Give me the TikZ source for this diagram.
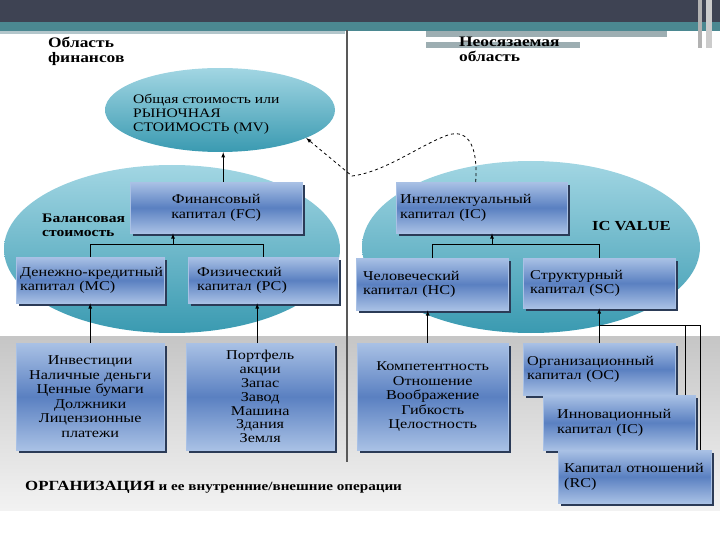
\documentclass[tikz,border=0pt]{standalone}
\usepackage{fontspec}
\setmainfont{Liberation Serif}[FakeStretch=1.2]
\usetikzlibrary{shapes,arrows,positioning,calc,shadows}
\definecolor{topbar}{HTML}{3E4353}
\definecolor{tealband}{HTML}{4B8891}
\definecolor{paleband}{HTML}{B3C6CB}
\definecolor{greyband}{HTML}{9DAEB2}
\definecolor{ovaltop}{HTML}{A2D6E3}
\definecolor{ovalbot}{HTML}{3A9AB1}
\definecolor{boxedge}{HTML}{A9C1E5}
\definecolor{boxmid}{HTML}{5A80C1}
\definecolor{boxshade}{HTML}{2B3B57}

\begin{document}
\begin{tikzpicture}[x=1pt, y=-1pt,
    capbox/.style={draw=boxedge, top color=boxedge, bottom color=boxedge, middle color=boxmid,
        anchor=north west, align=left, inner ysep=0pt, font=\fontsize{13.5}{14.5}\selectfont,
        general shadow={fill=boxshade, shadow xshift=2.5pt, shadow yshift=-2.5pt}},
    oval/.style={ellipse, top color=ovaltop, bottom color=ovalbot, inner sep=0pt},
    heading/.style={anchor=north west, align=left, inner sep=0pt, font=\bfseries\fontsize{14.5}{15}\selectfont}]
    \useasboundingbox (0,0) rectangle (720,540);

    % slide header
    \fill [topbar] (0,0) rectangle (720,22);
    \fill [tealband] (0,22) rectangle (720,31);
    \fill [paleband] (0,31) rectangle (345,34);
    \fill [greyband] (426,31) rectangle (667,37);
    \fill [greyband] (426,42) rectangle (580,48);
    \fill [gray!60] (698,0) rectangle (702,48);
    \fill [gray!40] (706,0) rectangle (712,48);

    % organisation panel
    \fill [top color=gray!45, bottom color=gray!10] (0,336) rectangle (720,510);
    \draw [line width=2pt, gray!70!black] (347,30) -- (347,462);

    % value areas
    \node (mv) [oval, minimum width=230pt, minimum height=84pt] at (220,110) {};
    \node (bsoval) [oval, minimum width=336pt, minimum height=168pt] at (172,249) {};
    \node (icoval) [oval, minimum width=338pt, minimum height=172pt] at (531,247) {};

    \node (finarea) [heading] at (48,37) {Область\\финансов};
    \node (icarea) [heading] at (459,37) {Неосязаемая\\область};
    \node (mvtext) [anchor=west, align=left, inner sep=0pt, font=\fontsize{13}{14}\selectfont] at (133,114) {Общая стоимость или\\РЫНОЧНАЯ\\СТОИМОСТЬ (MV)};
    \node (bsvalue) [anchor=west, align=left, inner sep=0pt, font=\bfseries\fontsize{13}{14}\selectfont] at (42,225) {Балансовая\\стоимость};
    \node (icvalue) [anchor=west, inner sep=0pt, font=\bfseries\fontsize{13.8}{14}\selectfont] at (592,226) {IC VALUE};

    % capital boxes
    \node (fc) [capbox, align=center, text width=160pt, inner xsep=6pt, minimum height=51pt] at (130,182) {Финансовый\\капитал (FC)};
    \node (mc) [capbox, text width=140pt, inner xsep=4pt, minimum height=46pt] at (16,257) {\mbox{Денежно-кредитный}\\ капитал (MC)};
    \node (pc) [capbox, text width=132pt, inner xsep=9pt, minimum height=46pt] at (188,257) {Физический\\ капитал (PC)};
    \node (ic) [capbox, text width=163pt, inner xsep=4pt, minimum height=51pt] at (396,182) {Интеллектуальный\\ капитал (IC)};
    \node (hc) [capbox, text width=138pt, inner xsep=7pt, minimum height=52pt] at (356,258) {Человеческий\\ капитал (HC)};
    \node (sc) [capbox, text width=138pt, inner xsep=7pt, minimum height=50pt] at (523,258) {Структурный\\ капитал (SC)};

    % organisation boxes
    \node (inv) [capbox, align=center, text width=140pt, inner xsep=4pt, minimum height=107pt] at (16,343) {Инвестиции\\Наличные деньги\\Ценные бумаги\\Должники\\Лицензионные\\платежи};
    \node (port) [capbox, align=center, text width=140pt, inner xsep=4pt, minimum height=107pt, font=\fontsize{13.5}{13.8}\selectfont] at (186,343) {Портфель\\акции\\Запас\\Завод\\Машина\\Здания\\Земля};
    \node (comp) [capbox, align=center, text width=143pt, inner xsep=4pt, minimum height=107pt] at (357,343) {Компетентность\\Отношение\\Воображение\\Гибкость\\Целостность};
    \node (oc) [capbox, text width=144pt, inner xsep=4pt, minimum height=52pt] at (523,343) {Организационный\\капитал (OC)};
    \node (inn) [capbox, text width=124pt, inner xsep=14pt, minimum height=55pt] at (543,395) {Инновационный\\капитал (IC)};
    \node (rc) [capbox, text width=141pt, inner xsep=6pt, minimum height=53pt] at (558,450) {\mbox{Капитал отношений}\\(RC)};

    \node (org) [anchor=west, inner sep=0pt, font=\bfseries\fontsize{12.6}{14}\selectfont] at (25,487) {{\fontsize{14}{14}\selectfont ОРГАНИЗАЦИЯ} и ее внутренние/внешние операции};

    % links
    \coordinate (fcjoin) at (173,244);
    \coordinate (icjoin) at (492,244);
    \coordinate (scjoin) at (599,325);
    \draw [-latex, thick] ([xshift=7pt]fc.north) -- ([xshift=7pt]fc.north |- mv.south);
    \draw [thick] (mc.north) -- ++(0,-13) -| (pc.north);
    \draw [-latex, thick] (fcjoin) -- (fcjoin |- fc.south);
    \draw [thick] (hc.north) -- ++(0,-14) -| (sc.north);
    \draw [-latex, thick] (icjoin) -- (icjoin |- ic.south);
    \draw [-latex, thick, dashed] ([xshift=-6pt]ic.north) .. controls (478,150) and (470,128) .. (448,135)
        .. controls (420,145) and (385,172) .. (352,176) -- (mv.-18);
    \draw [-latex, thick] (inv.north) -- (mc.south);
    \draw [-latex, thick] ([xshift=-3pt]port.north) -- ([xshift=-3pt]port.north |- pc.south);
    \draw [-latex, thick] ([xshift=-5pt]comp.north) -- ([xshift=-5pt]comp.north |- hc.south);
    \draw [-latex, thick] (oc.north) -- (sc.south);
    \draw [thick] ([xshift=-10pt]inn.north east) |- (scjoin);
    \draw [thick] ([xshift=-11pt]rc.north east) |- (scjoin);
\end{tikzpicture}
\end{document}
